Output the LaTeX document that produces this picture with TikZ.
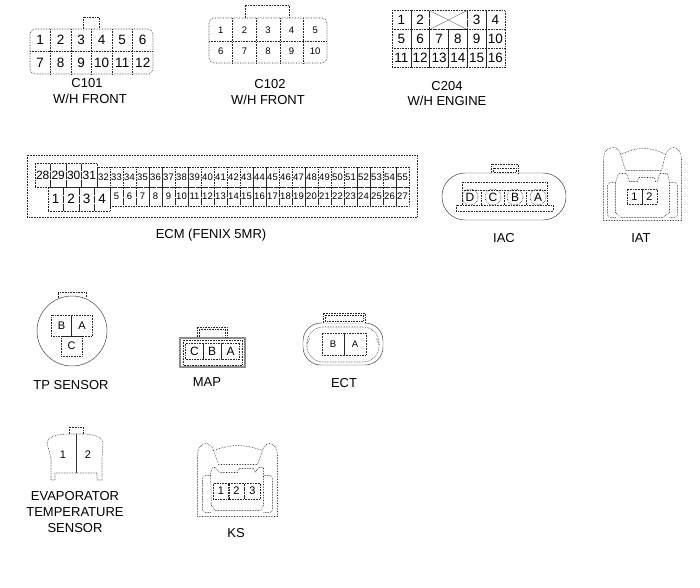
\documentclass[tikz,border=0pt]{standalone}
\usepackage{fontspec}
\setmainfont{Liberation Sans}
\tikzset{
  wire/.style={draw=black!85, line width=0.6pt, densely dotted},
  hard/.style={draw=black!80, line width=0.45pt},
  dark/.style={draw=black!85, line width=0.6pt},
  cellbox/.style={wire, inner sep=0pt},
  capt/.style={inner sep=0pt, font=\fontsize{13}{13}\selectfont},
  bignum/.style={inner sep=0pt, font=\fontsize{13.5}{13.5}\selectfont},
  ecmnum/.style={inner sep=0pt, font=\fontsize{12}{12}\selectfont},
  midnum/.style={inner sep=0pt, font=\fontsize{11}{11}\selectfont},
  tinynum/.style={inner sep=0pt, font=\fontsize{9.5}{9.5}\selectfont}
}
\begin{document}
\begin{tikzpicture}[x=1pt, y=-1pt]
  \useasboundingbox (0,0) rectangle (700,587);

  \draw[wire, rounded corners=5pt] (30,29) rectangle (153,74);
  \draw[wire] (83,29) -- (83,17) -- (99,17) -- (99,29);
  \draw[wire] (30,51) -- (153,51);
  \foreach \i in {1,...,5} \draw[wire] (30+20.5*\i,29) -- (30+20.5*\i,74);
  \foreach \n [count=\i] in {1,...,6} \node[bignum] (Ca\n) at (19.75+20.5*\i,40) {\n};
  \foreach \n [count=\i] in {7,...,12} \node[bignum] (Ca\n) at (19.75+20.5*\i,63) {\n};
  \node[capt] (Ca) at (87,83) {C101};
  \node[capt] (CaW) at (90,99) {W/H FRONT};

  \draw[wire, rounded corners=5pt] (209,18) rectangle (327,63);
  \draw[wire] (245,18) -- (245,5) -- (289,5) -- (289,18);
  \draw[wire] (209,41) -- (327,41);
  \foreach \i in {1,...,4} \draw[wire] (209+23.6*\i,18) -- (209+23.6*\i,63);
  \foreach \n [count=\i] in {1,...,5} \node[tinynum] (Cb\n) at (197.2+23.6*\i,30) {\n};
  \foreach \n [count=\i] in {6,...,10} \node[tinynum] (Cb\n) at (197.2+23.6*\i,51) {\n};
  \node[capt] (Cb) at (270,84) {C102};
  \node[capt] (CbW) at (268,100) {W/H FRONT};

  \foreach \n/\i in {1/1,2/2,3/5,4/6}
    \node[cellbox, bignum, wire, minimum width=18.8pt, minimum height=19pt] (Cc\n) at (382.6+18.8*\i,20) {\n};
  \draw[wire] (429.6,10.5) rectangle (467.2,29.5);
  \draw[draw=black!50, line width=0.5pt] (429.6,10.5) -- (467.2,29.5);
  \draw[draw=black!50, line width=0.5pt] (429.6,29.5) -- (467.2,10.5);
  \foreach \n [count=\i] in {5,...,10}
    \node[cellbox, bignum, minimum width=18.8pt, minimum height=19pt] (Cc\n) at (382.6+18.8*\i,39) {\n};
  \foreach \n [count=\i] in {11,...,16}
    \node[cellbox, bignum, minimum width=18.8pt, minimum height=19pt] (Cc\n) at (382.6+18.8*\i,58) {\n};
  \node[capt] (Cc) at (447,86) {C204};
  \node[capt] (CcW) at (447,101) {W/H ENGINE};

  \draw[wire] (27,155) rectangle (417,217);
  \foreach \n [count=\i] in {28,...,31}
    \node[cellbox, ecmnum, minimum width=15.5pt, minimum height=24pt] (Ep\n) at (27.25+15.5*\i,175) {\n};
  \foreach \n [count=\i] in {1,...,4}
    \node[cellbox, bignum, minimum width=15.5pt, minimum height=24pt] (Eq\n) at (40.25+15.5*\i,199) {\n};
  \foreach \n [count=\i] in {32,...,55}
    \node[cellbox, tinynum, minimum width=13pt, minimum height=20pt] (Ep\n) at (90.5+13*\i,177) {\n};
  \foreach \n [count=\i] in {5,...,27}
    \node[cellbox, tinynum, minimum width=13pt, minimum height=19pt] (Eq\n) at (103.5+13*\i,196.5) {\n};
  \foreach \k in {0,4,5,7,12,13,16,20,21,23} \draw[dark] (97+13*\k,167) -- (97+13*\k,187);
  \foreach \k in {4,5,7,12,13,16,20,21,23} \draw[dark] (97+13*\k,187) -- (97+13*\k,206);
  \node[capt] (E) at (211,235) {ECM (FENIX 5MR)};

  \draw[hard, rounded corners=23pt] (442,173) rectangle (566,220);
  \draw[wire, fill=white] (491,173) -- (491,164) -- (518,164) -- (518,173);
  \draw[wire] (493,168) rectangle (516,172);
  \draw[wire] (462,182) rectangle (547,190);
  \draw[wire] (462,190) -- (462,205);
  \draw[wire] (547,190) -- (547,205);
  \draw[wire] (456,205) rectangle (553,211);
  \foreach \x in {481.5,504,526.5} \draw[wire] (\x,190) -- (\x,205);
  \foreach \n/\x in {D/470,C/493,B/515,A/538}
    \node[cellbox, circle, midnum, minimum size=16pt, font=\fontsize{12}{12}\selectfont] (I\n) at (\x,197) {\n};
  \node[capt] (I) at (504,238) {IAC};

  \begin{scope}[xshift=0.5pt, yshift=-0.5pt]
  \draw[wire] (603,220) -- (603,160) .. controls (603,150) and (608,147) .. (613,147)
    .. controls (617,147) and (619,150) .. (620,154)
    .. controls (628,150) and (636,148) .. (643,148)
    .. controls (650,148) and (658,150) .. (665,154)
    .. controls (667,150) and (669,147) .. (673,147)
    .. controls (678,147) and (681,152) .. (681,160) -- (681,220) -- cycle;
  \draw[wire] (620,154) -- (625,170) -- (661,170) -- (665,154);
  \draw[wire] (615,212) -- (615,182) -- (618,173) -- (626,173) -- (629,181) -- (637,181)
    -- (638,177) -- (654,177) -- (655,181) -- (657,181) -- (659,173) -- (667,173)
    -- (669,182) -- (669,212) -- (662,217) -- (620,217) -- cycle;
  \draw[wire, rounded corners=3pt] (615,217) -- (607,217) -- (607,182) -- (615,182);
  \draw[wire, rounded corners=3pt] (669,217) -- (677,217) -- (677,182) -- (669,182);
  \end{scope}
  \node[cellbox, midnum, minimum width=15pt, minimum height=15pt] (Ta1) at (634.5,196.5) {1};
  \node[cellbox, midnum, minimum width=15pt, minimum height=15pt] (Ta2) at (649.5,196.5) {2};
  \node[capt] (T) at (641,238) {IAT};

  \draw[hard] (72,331) circle [radius=35];
  \draw[wire] (58,298) -- (58,292) -- (86,292) -- (86,298);
  \node[cellbox, midnum, minimum width=20.5pt, minimum height=21pt] (PB) at (61.5,325.5) {B};
  \node[cellbox, midnum, minimum width=20.5pt, minimum height=21pt] (PA) at (82,325.5) {A};
  \node[cellbox, midnum, minimum width=21pt, minimum height=20pt] (PC) at (71.5,346) {C};
  \node[capt] (P) at (71,385) {TP SENSOR};

  \draw[draw=black!45, line width=1.2pt] (180,338) rectangle (245,367);
  \draw[wire] (183,340) rectangle (242,365);
  \draw[wire] (197,337) -- (197,327) -- (227,327) -- (227,337);
  \draw[wire] (199,337) -- (199,329) -- (225,329) -- (225,337);
  \foreach \n/\x in {C/194.5,B/212,A/230.5}
    \node[cellbox, midnum, font=\fontsize{12}{12}\selectfont, minimum width=18pt, minimum height=16pt] (M\n) at (\x,351) {\n};
  \node[capt] (M) at (207,382) {MAP};

  \draw[hard, rounded corners=18pt] (303,323) rectangle (383,365);
  \draw[wire, rounded corners=16pt] (307,327) rectangle (379,362);
  \draw[wire, fill=white] (323,323) -- (323,313) -- (365,313) -- (365,323);
  \draw[wire] (325,315) rectangle (363,321);
  \draw[wire] (310,338) -- (307,344);
  \draw[wire] (376,338) -- (379,344);
  \node[cellbox, midnum, font=\fontsize{9.5}{9.5}\selectfont, minimum width=22pt, minimum height=22pt] (BB) at (333,344) {B};
  \node[cellbox, midnum, font=\fontsize{9.5}{9.5}\selectfont, minimum width=22pt, minimum height=22pt] (BA) at (355,344) {A};
  \node[capt] (B) at (344,383) {ECT};

  \draw[wire] (69,434) -- (69,427) -- (83,427) -- (83,434);
  \draw[wire] (51,458) -- (47,443) .. controls (47,438) and (55,434) .. (69,434) -- (83,434)
    .. controls (95,434) and (103,438) .. (103,443) -- (102,458) -- (102,480) -- (97,480)
    -- (97,473) -- (55,473) -- (55,480) -- (51,480) -- cycle;
  \draw[hard] (76,434) -- (76,473);
  \node[midnum] (V1) at (63,455) {1};
  \node[midnum] (V2) at (88,455) {2};
  \node[capt] (Va) at (75,496) {EVAPORATOR};
  \node[capt] (Vb) at (75,512) {TEMPERATURE};
  \node[capt] (Vc) at (75,528) {SENSOR};

  \begin{scope}[xshift=0.5pt, yshift=-0.5pt]
  \draw[wire] (197,516) -- (197,456) .. controls (197,448) and (200,443) .. (205,443)
    .. controls (209,443) and (212,446) .. (213,450)
    .. controls (221,447) and (230,445) .. (237,445)
    .. controls (245,445) and (254,447) .. (262,450)
    .. controls (263,446) and (266,443) .. (269,443)
    .. controls (274,443) and (277,448) .. (277,456) -- (277,516) -- cycle;
  \draw[wire] (213,450) -- (218,464) -- (257,464) -- (262,450);
  \draw[wire] (210,473) -- (212,467) -- (215,467) -- (219,472) -- (237,472) -- (238,468)
    -- (253,468) -- (255,472) -- (258,467) -- (263,467) -- (263,473) -- (263,505)
    -- (260,510) -- (215,510) -- (211,505) -- (210,473);
  \draw[wire, rounded corners=3pt] (210,512) -- (202,512) -- (202,475) -- (210,475);
  \draw[wire, rounded corners=3pt] (263,512) -- (272,512) -- (272,475) -- (263,475);
  \end{scope}
  \foreach \n/\x in {1/221,2/236.5,3/252.5}
    \node[cellbox, midnum, minimum width=15.7pt, minimum height=16pt] (K\n) at (\x,491) {\n};
  \node[capt] (K) at (236,533) {KS};
\end{tikzpicture}
\end{document}
